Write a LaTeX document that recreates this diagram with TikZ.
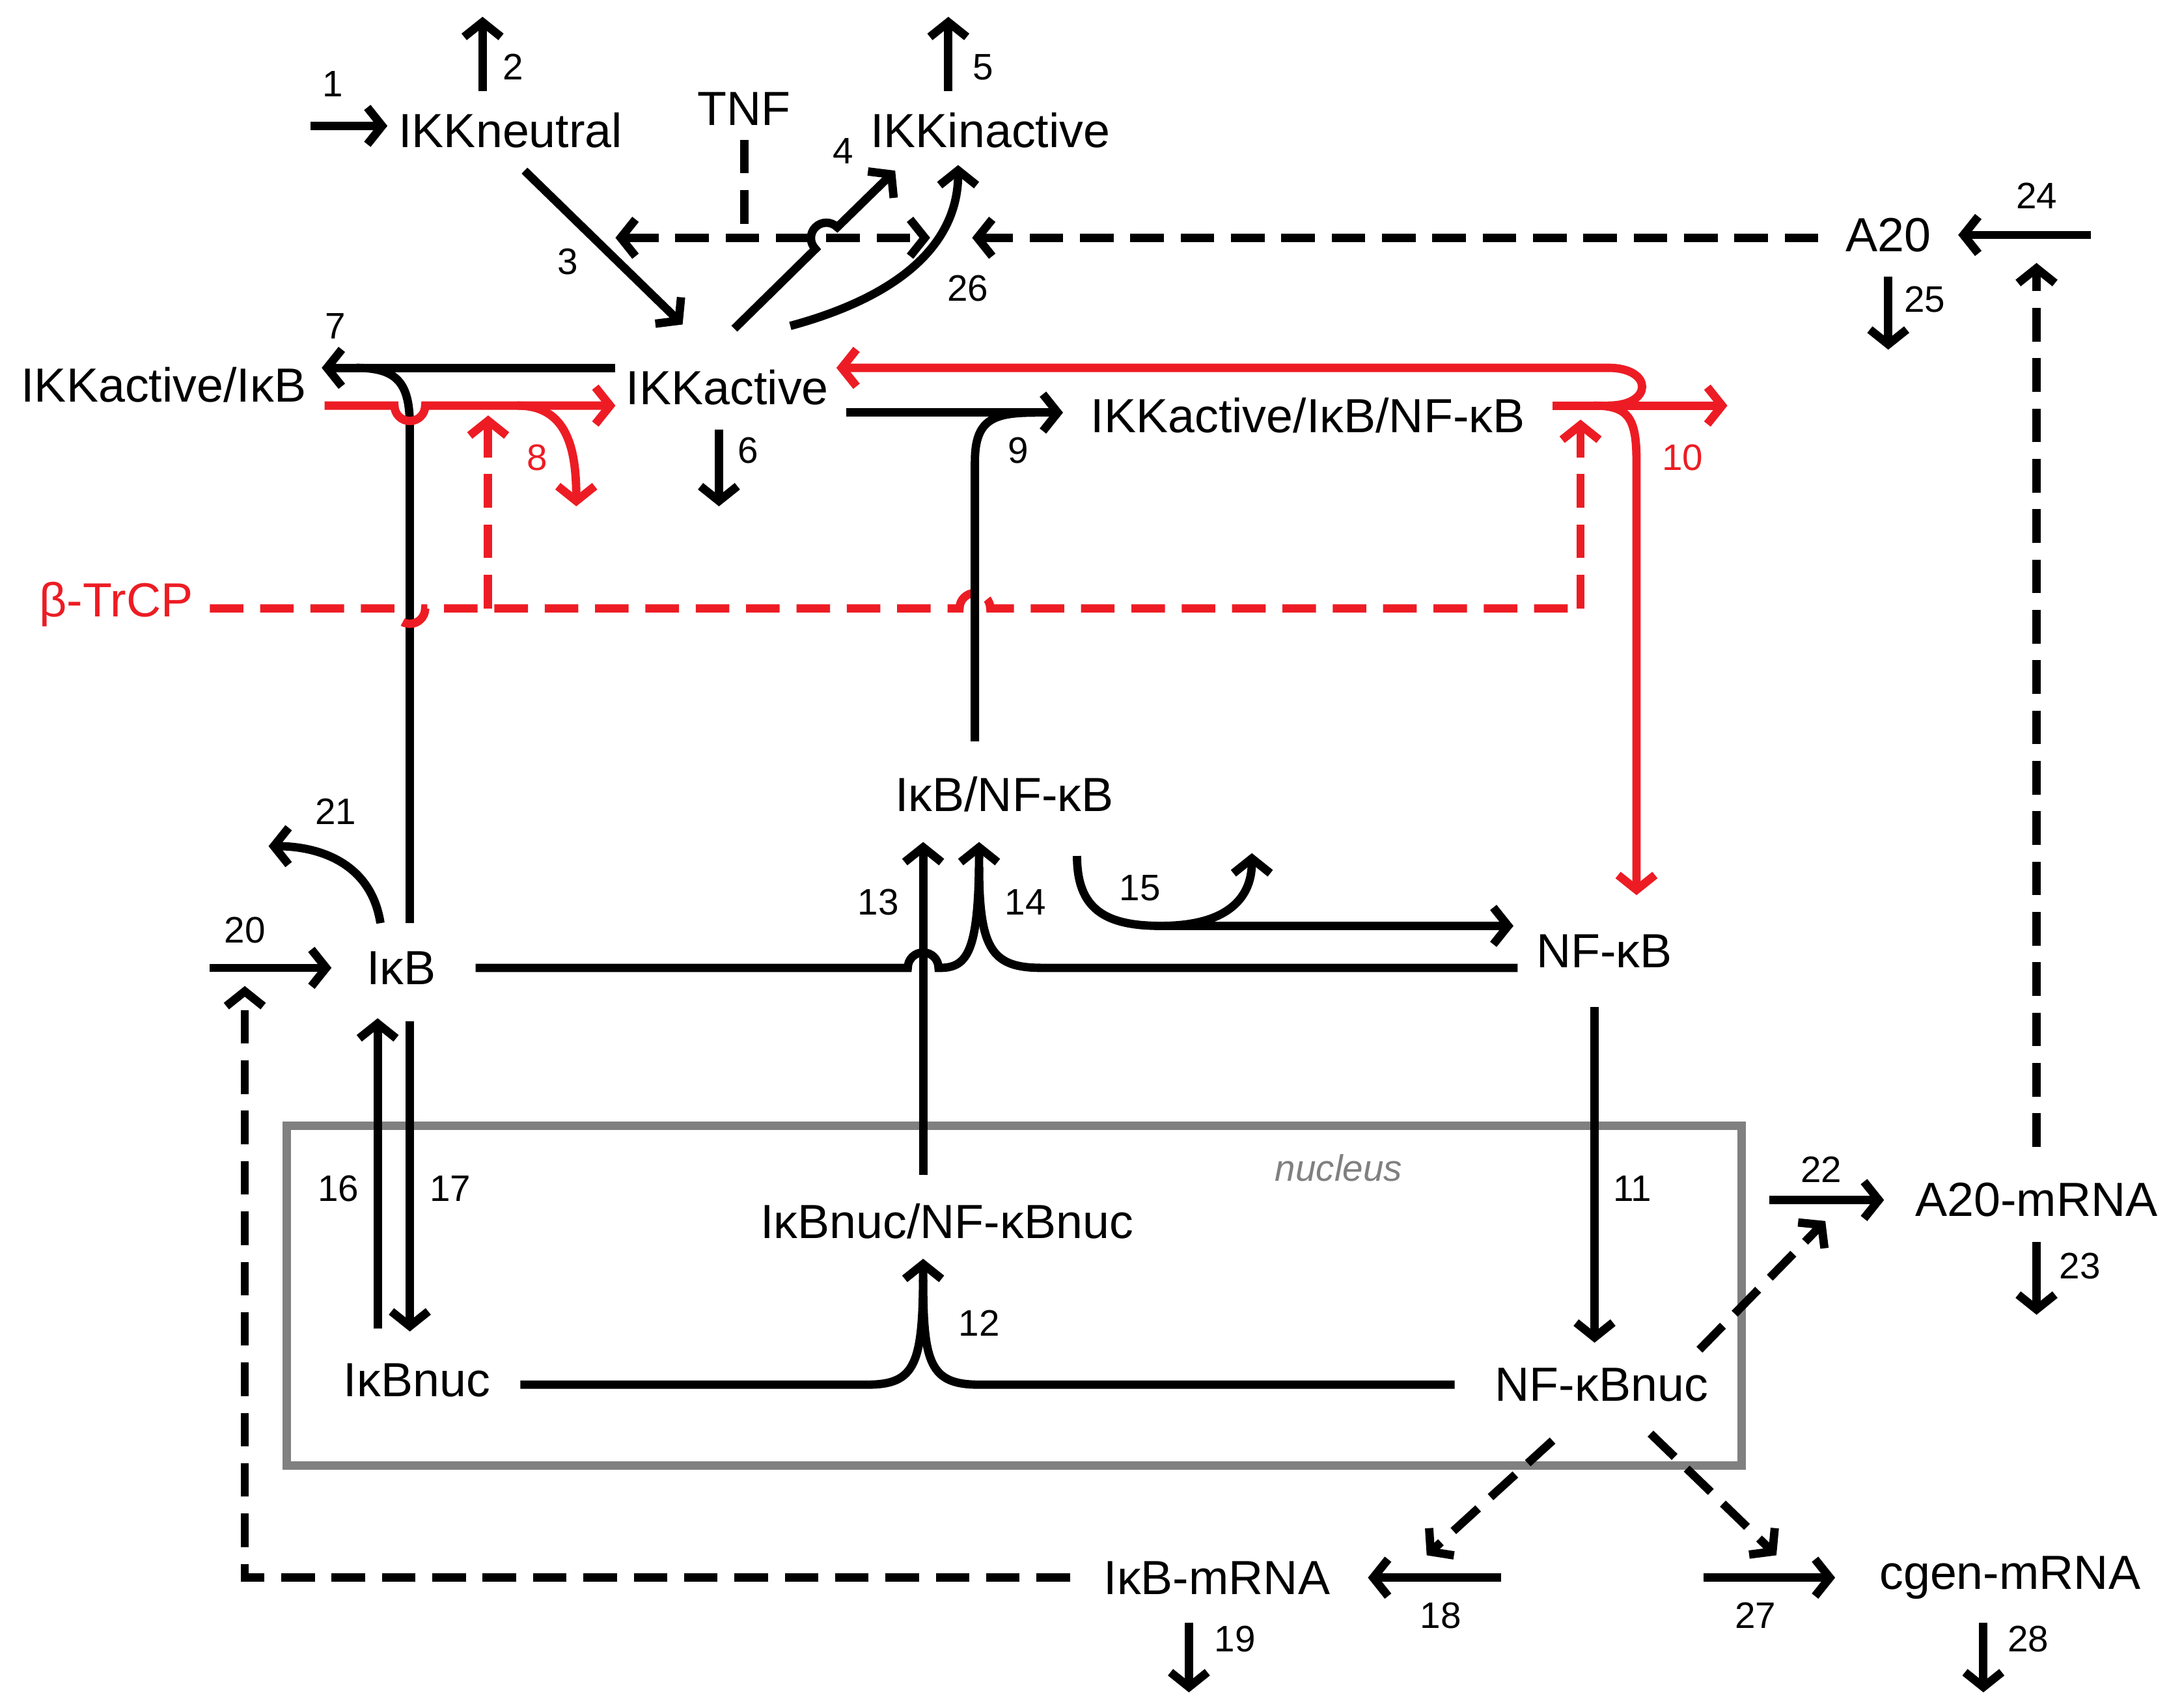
\documentclass[tikz,border=0pt]{standalone}
\usepackage{fontspec}
\setmainfont{Liberation Sans}
\usetikzlibrary{arrows.meta}
\definecolor{myred}{RGB}{237,28,36}
\definecolor{boxgray}{RGB}{128,128,128}
\begin{document}
\begin{tikzpicture}[x=0.02cm,y=-0.02cm,
  ln/.style={line width=3.4pt,black},
  ar/.style={ln,-{Straight Barb[length=6pt,width=15pt]}},
  dsh/.style={dash pattern=on 0.48cm off 0.24cm},
  rd/.style={myred},
  sp/.style={font=\fontsize{19.5}{24}\selectfont,inner sep=1pt},
  lbl/.style={font=\fontsize{15}{18}\selectfont,inner sep=0pt}]
\useasboundingbox (0,0) rectangle (1560,1221);

% nucleus
\draw[boxgray,line width=3.4pt] (205,805) rectangle (1245,1048);
\node[boxgray,font=\fontsize{15}{18}\selectfont\itshape] (nuc) at (957,835) {nucleus};

% species
\node[sp] (ikkn) at (365,93) {IKKneutral};
\node[sp] (tnf) at (532,78) {TNF};
\node[sp] (ikki) at (708,93) {IKKinactive};
\node[sp] (a20) at (1350,168) {A20};
\node[sp] (ikka) at (520,277) {IKKactive};
\node[sp] (ikkab) at (117,275) {IKKactive/IκB};
\node[sp] (ikkabn) at (935,297) {IKKactive/IκB/NF-κB};
\node[sp,rd] (btrcp) at (83,432) {β-TrCP};
\node[sp] (ibnf) at (718,568) {IκB/NF-κB};
\node[sp] (ib) at (287,692) {IκB};
\node[sp] (nfkb) at (1147,680) {NF-κB};
\node[sp] (ibnfn) at (677,873) {IκBnuc/NF-κBnuc};
\node[sp] (ibn) at (298,987) {IκBnuc};
\node[sp] (nfkbn) at (1145,990) {NF-κBnuc};
\node[sp] (a20m) at (1456,858) {A20-mRNA};
\node[sp] (ibm) at (870,1128) {IκB-mRNA};
\node[sp] (cgm) at (1437,1128) {cgen-mRNA};

% labels
\foreach \t/\x/\y in {1/238/60,2/367/48,3/406/187,4/603/108,5/703/48,6/535/322,
  7/240/233,9/728/322,11/1167/850,12/700/946,13/628/645,14/733/645,15/815/635,
  16/242/850,17/322/850,18/1030/1155,19/883/1172,20/175/665,21/240/580,22/1302/836,
  23/1487/905,24/1456/140,25/1376/214,26/692/206,27/1255/1155,28/1450/1172}
  \node[lbl] (l\t) at (\x,\y) {\t};
\node[lbl,rd] (l8) at (384,327) {8};
\node[lbl,rd] (l10) at (1203,327) {10};

% coordinates
\coordinate (c1) at (222,90);   \coordinate (c1e) at (277,90);
\coordinate (c2) at (345,65);   \coordinate (c2e) at (345,12);
\coordinate (c5) at (678,65);   \coordinate (c5e) at (678,12);
\coordinate (c6) at (514,307);  \coordinate (c6e) at (514,362);
\coordinate (c24) at (1495,168);\coordinate (c24e) at (1400,168);
\coordinate (c25) at (1350,198);\coordinate (c25e) at (1350,250);
\coordinate (c23) at (1456,888);\coordinate (c23e) at (1456,940);
\coordinate (c19) at (850,1160);\coordinate (c19e) at (850,1210);
\coordinate (c28) at (1418,1160);\coordinate (c28e) at (1418,1210);
\coordinate (c20) at (150,692); \coordinate (c20e) at (237,692);
\coordinate (c22) at (1265,858);\coordinate (c22e) at (1347,858);
\coordinate (c18) at (1073,1128);\coordinate (c18e) at (978,1128);
\coordinate (c27) at (1218,1128);\coordinate (c27e) at (1312,1128);
\coordinate (tnfx) at (532,170);

% simple in/out flows
\foreach \a in {1,2,5,6,24,25,23,19,28,20,22,18,27}
  \draw[ar] (c\a) -- (c\a e);

% 3, 4, 26
\draw[ar] (375,122) -- (488,232);
\draw[ar] (525,235) -- (583,178) arc[start angle=225,end angle=45,radius=0.22cm] -- (640,122);
\draw[ar] (565,233) .. controls (650,210) and (685,170) .. (685,118);

% TNF and A20 dashed influences
\draw[ln,dsh] (532,100) -- (tnfx);
\draw[ln,dsh,{Straight Barb[length=6pt,width=15pt]}-{Straight Barb[length=6pt,width=15pt]}] (440,170) -- (665,170);
\draw[ar,dsh] (1300,170) -- (695,170);
\draw[ar,dsh] (1456,820) -- (1456,188);

% 7
\draw[ar] (440,263) -- (230,263);
\draw[ln] (293,660) -- (293,305) .. controls (293,275) and (285,263) .. (255,263);
\draw[ar] (293,730) -- (293,952);
\draw[ar] (270,950) -- (270,728);

% 8 (red)
\draw[ar,rd] (232,290) -- (282,290) arc[start angle=180,end angle=360,radius=0.22cm] -- (440,290);
\draw[ar,rd] (370,290) .. controls (405,290) and (412,320) .. (412,362);
\draw[ar,rd,dsh] (349,435) -- (349,297);
\draw[ln,rd,dsh] (150,435) -- (282,435) arc[start angle=180,end angle=360,radius=0.22cm]
  -- (686,435) arc[start angle=180,end angle=0,radius=0.22cm] -- (1130,435);
\draw[ar,rd,dsh] (1130,435) -- (1130,300);

% 9
\draw[ar] (605,295) -- (760,295);
\draw[ln] (697,530) -- (697,330) .. controls (697,300) and (710,295) .. (740,295);

% 10 (red)
\draw[ar,rd] (1110,290) -- (1235,290);
\draw[ar,rd] (1140,290) .. controls (1165,290) and (1170,300) .. (1170,330) -- (1170,640);
\draw[ar,rd] (1150,290) .. controls (1182,290) and (1182,263) .. (1150,263) -- (598,263);

% 13, 14, 15
\draw[ar] (660,840) -- (660,602);
\draw[ln] (340,692) -- (649,692) arc[start angle=180,end angle=0,radius=0.22cm] -- (672,692);
\draw[ar] (672,692) .. controls (692,692) and (700,680) .. (700,602);
\draw[ln] (1085,692) -- (745,692) .. controls (710,692) and (700,680) .. (700,620);
\draw[ar] (770,612) .. controls (770,650) and (790,662) .. (830,662) -- (1082,662);
\draw[ar] (830,662) .. controls (880,662) and (895,640) .. (895,610);

% 21
\draw[ar] (272,660) .. controls (265,615) and (225,605) .. (192,605);

% 11, 12
\draw[ar] (1140,720) -- (1140,960);
\draw[ar] (372,990) -- (620,990) .. controls (655,990) and (660,975) .. (660,900);
\draw[ln] (1040,990) -- (700,990) .. controls (665,990) and (660,975) .. (660,915);

% transcription
\draw[ar,dsh] (1215,965) -- (1305,873);
\draw[ar,dsh] (1110,1030) -- (1020,1112);
\draw[ar,dsh] (1180,1025) -- (1270,1112);
\draw[ar,dsh] (765,1128) -- (175,1128) -- (175,705);
\end{tikzpicture}
\end{document}
